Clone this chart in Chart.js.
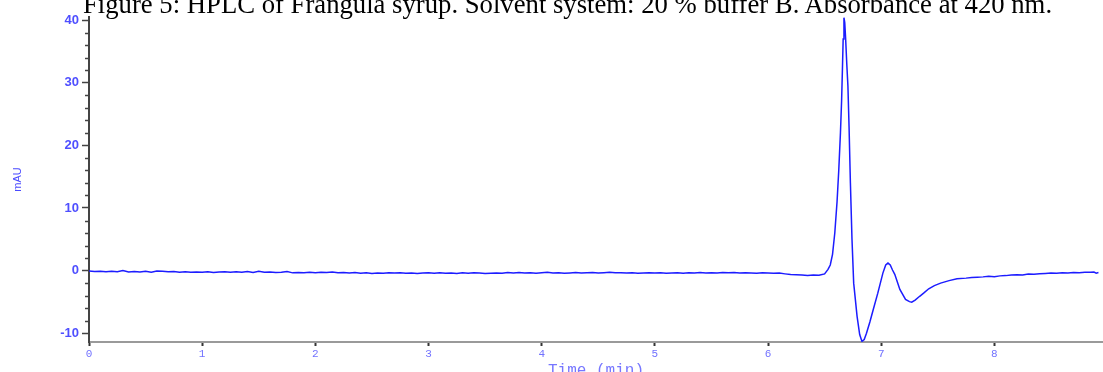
<!DOCTYPE html>
<html>
<head>
<meta charset="utf-8">
<script src="https://cdn.jsdelivr.net/npm/chart.js@4.4.0/dist/chart.umd.min.js"></script>
<style>
  html, body { margin: 0; padding: 0; background: #fff; overflow: hidden; }
  #wrap { position: relative; width: 1103px; height: 372px; }
  #title {
    position: absolute; left: 83px; top: -9px; white-space: nowrap;
    font-family: "Liberation Serif", "Times New Roman", serif;
    font-size: 26.7px; line-height: 26px; color: #000;
  }
  canvas { position: absolute; left: 0; top: 0; }
</style>
</head>
<body>
<div id="wrap">
  <canvas id="hplc" width="1103" height="372"></canvas>
  <div id="title">Figure 5: HPLC of Frangula syrup. Solvent system: 20 % buffer B. Absorbance at 420 nm.</div>
</div>
<script>
// retention time (min)
var times = [
  0.00, 0.05, 0.10, 0.15, 0.20, 0.25, 0.30, 0.35, 0.40, 0.45,
  0.50, 0.55, 0.60, 0.65, 0.70, 0.75, 0.80, 0.85, 0.90, 0.95,
  1.00, 1.05, 1.10, 1.15, 1.20, 1.25, 1.30, 1.35, 1.40, 1.45,
  1.50, 1.55, 1.60, 1.65, 1.70, 1.75, 1.80, 1.85, 1.90, 1.95,
  2.00, 2.05, 2.10, 2.15, 2.20, 2.25, 2.30, 2.35, 2.40, 2.45,
  2.50, 2.55, 2.60, 2.65, 2.70, 2.75, 2.80, 2.85, 2.90, 2.95,
  3.00, 3.05, 3.10, 3.15, 3.20, 3.25, 3.30, 3.35, 3.40, 3.45,
  3.50, 3.55, 3.60, 3.65, 3.70, 3.75, 3.80, 3.85, 3.90, 3.95,
  4.00, 4.05, 4.10, 4.15, 4.20, 4.25, 4.30, 4.35, 4.40, 4.45,
  4.50, 4.55, 4.60, 4.65, 4.70, 4.75, 4.80, 4.85, 4.90, 4.95,
  5.00, 5.05, 5.10, 5.15, 5.20, 5.25, 5.30, 5.35, 5.40, 5.45,
  5.50, 5.55, 5.60, 5.65, 5.70, 5.75, 5.80, 5.85, 5.90, 5.95,
  6.00, 6.05, 6.10, 6.15, 6.20, 6.25, 6.30, 6.35, 6.40, 6.45,
  6.50, 6.53, 6.55, 6.57, 6.59, 6.61, 6.625, 6.64, 6.65, 6.658,
  6.664, 6.671, 6.678, 6.686, 6.696, 6.706, 6.716, 6.728, 6.742, 6.757,
  6.787, 6.81, 6.83, 6.85, 6.87, 6.90, 6.93, 6.97, 7.015, 7.04,
  7.06, 7.08, 7.10, 7.12, 7.165, 7.215, 7.25, 7.27, 7.30, 7.34,
  7.375, 7.42, 7.47, 7.525, 7.60, 7.67, 7.75, 7.80, 7.85, 7.90,
  7.95, 8.00, 8.05, 8.10, 8.15, 8.20, 8.25, 8.30, 8.35, 8.40,
  8.45, 8.50, 8.55, 8.60, 8.65, 8.70, 8.75, 8.80, 8.85, 8.88,
  8.90, 8.92
];

// absorbance at 420 nm (mAU)
var mau = [
  -0.05, -0.15, -0.10, -0.20, -0.12, -0.18, 0.02, -0.22, -0.15, -0.24,
  -0.12, -0.25, -0.05, -0.10, -0.20, -0.14, -0.26, -0.18, -0.27, -0.22,
  -0.28, -0.20, -0.30, -0.24, -0.18, -0.26, -0.20, -0.28, -0.16, -0.30,
  -0.12, -0.26, -0.22, -0.32, -0.26, -0.14, -0.36, -0.30, -0.35, -0.28,
  -0.34, -0.26, -0.32, -0.24, -0.34, -0.30, -0.38, -0.32, -0.44, -0.36,
  -0.46, -0.38, -0.44, -0.36, -0.40, -0.34, -0.42, -0.38, -0.45, -0.40,
  -0.36, -0.44, -0.36, -0.42, -0.38, -0.46, -0.36, -0.44, -0.34, -0.40,
  -0.48, -0.42, -0.38, -0.44, -0.32, -0.40, -0.30, -0.38, -0.34, -0.42,
  -0.36, -0.28, -0.40, -0.34, -0.42, -0.38, -0.32, -0.40, -0.36, -0.30,
  -0.38, -0.34, -0.28, -0.36, -0.34, -0.40, -0.36, -0.42, -0.38, -0.34,
  -0.40, -0.36, -0.44, -0.38, -0.34, -0.42, -0.36, -0.40, -0.30, -0.38,
  -0.34, -0.40, -0.30, -0.36, -0.32, -0.40, -0.36, -0.38, -0.42, -0.36,
  -0.40, -0.44, -0.40, -0.52, -0.62, -0.66, -0.72, -0.78, -0.70, -0.74,
  -0.52, 0.2, 0.9, 2.6, 6.0, 11.0, 16.0, 22.0, 27.0, 32.5,
  37.0, 40.4, 39.6, 37.0, 33.0, 29.5, 23.0, 14.0, 5.0, -2.0,
  -7.3, -10.2, -11.3, -11.0, -10.0, -8.2, -6.2, -3.6, -0.4, 0.9,
  1.2, 0.9, 0.1, -0.6, -3.0, -4.6, -4.95, -5.05, -4.7, -4.1,
  -3.6, -2.9, -2.4, -2.0, -1.6, -1.3, -1.2, -1.1, -1.05, -1.0,
  -0.92, -0.96, -0.84, -0.80, -0.72, -0.66, -0.70, -0.56, -0.60, -0.50,
  -0.46, -0.40, -0.44, -0.34, -0.38, -0.30, -0.34, -0.28, -0.26, -0.24,
  -0.40, -0.30
];

var xTicks = [0, 1, 2, 3, 4, 5, 6, 7, 8];
var yTicks = [-10, 0, 10, 20, 30, 40];
var yMinorTicks = [-8, -6, -4, -2, 2, 4, 6, 8, 12, 14, 16, 18, 22, 24, 26, 28, 32, 34, 36, 38];

var points = times.map(function (t, i) { return { x: t, y: mau[i] }; });

// short minor ticks on the y axis
var minorTicks = {
  id: "minorTicks",
  afterDraw: function (chart) {
    var y = chart.scales.y;
    var c = chart.ctx;
    c.save();
    c.strokeStyle = "#444";
    c.lineWidth = 1.5;
    yMinorTicks.forEach(function (v) {
      var py = Math.round(y.getPixelForValue(v)) + 0.5;
      c.beginPath();
      c.moveTo(y.right - 4, py);
      c.lineTo(y.right, py);
      c.stroke();
    });
    c.restore();
  }
};

new Chart(document.getElementById("hplc"), {
  type: "line",
  data: {
    datasets: [{
      data: points,
      borderColor: "#1c1cff",
      borderWidth: 1.5,
      pointRadius: 0,
      tension: 0,
      fill: false
    }]
  },
  options: {
    responsive: false,
    animation: false,
    layout: { padding: { top: 17, right: 0, bottom: 0, left: 0 } },
    plugins: { legend: { display: false }, tooltip: { enabled: false } },
    scales: {
      x: {
        type: "linear",
        min: 0,
        max: 8.96,
        afterBuildTicks: function (s) { s.ticks = xTicks.map(function (v) { return { value: v }; }); },
        afterFit: function (s) { s.height = 30; },
        border: { display: true, color: "#9a9a9a", width: 2 },
        grid: { drawOnChartArea: false, drawTicks: true, tickLength: 4, tickColor: "#333", tickWidth: 2 },
        ticks: {
          color: "#7272ff",
          padding: 1,
          maxRotation: 0,
          font: { family: "Liberation Mono", size: 11 }
        },
        title: {
          display: true,
          text: "Time (min)",
          color: "#7777ff",
          font: { family: "Liberation Mono", size: 16, lineHeight: 0.8 },
          padding: { top: 0, bottom: -5 }
        }
      },
      y: {
        min: -11.4,
        max: 40.5,
        afterBuildTicks: function (s) { s.ticks = yTicks.map(function (v) { return { value: v }; }); },
        afterFit: function (s) { s.width = 89; },
        border: { display: true, color: "#444", width: 2 },
        grid: { drawOnChartArea: false, drawTicks: true, tickLength: 7, tickColor: "#444", tickWidth: 1.5 },
        ticks: {
          color: "#4f4fff",
          padding: 3,
          font: { family: "Liberation Sans", size: 13, weight: "bold" }
        },
        title: {
          display: true,
          text: "mAU",
          color: "#4a4aff",
          font: { family: "Liberation Sans", size: 11 },
          padding: { top: 11, bottom: 0 }
        }
      }
    }
  },
  plugins: [minorTicks]
});
</script>
</body>
</html>
